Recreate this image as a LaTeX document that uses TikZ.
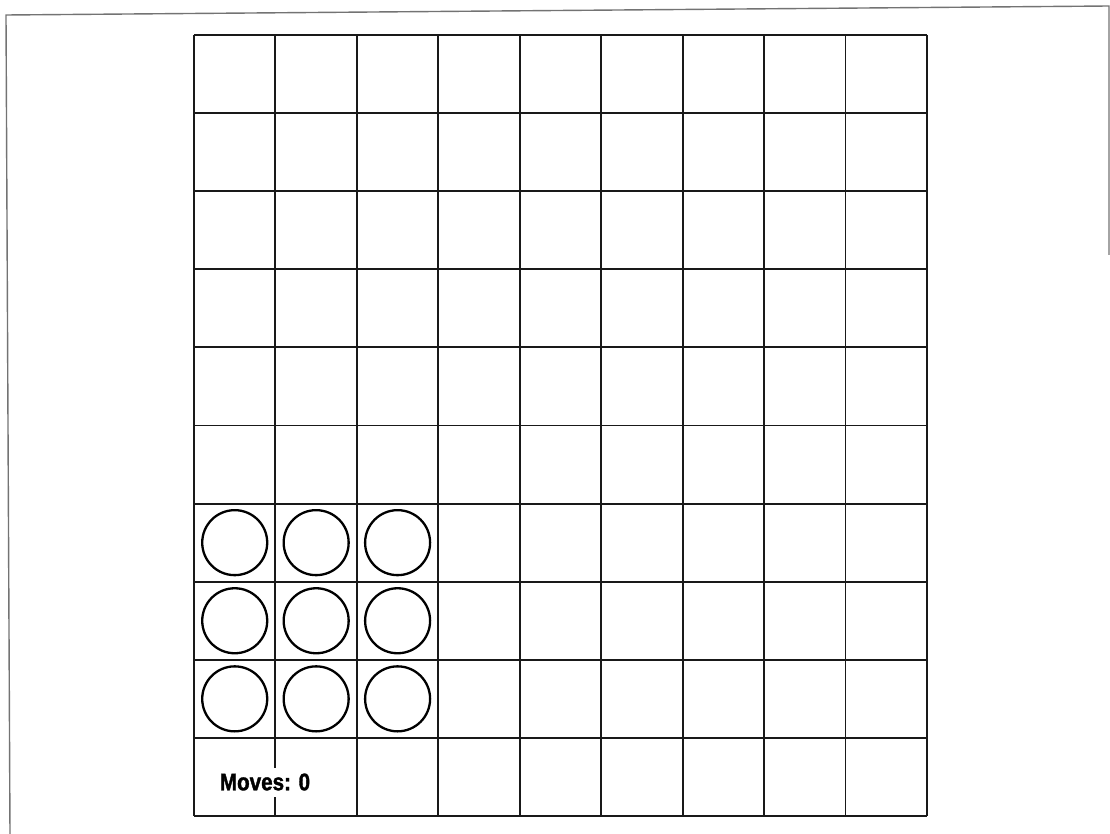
\documentclass[tikz,border=0pt]{standalone}
\usepackage{fontspec}
\newfontfamily\movesfont[FakeStretch=0.86, BoldFeatures={FakeBold=1.5}]{Liberation Sans}
\tikzset{
  gridline/.style={line width=1.9pt, black!90},
  frameline/.style={line width=1.4pt, black!55},
  piece/.style={circle, draw, line width=2.3pt, minimum size=65pt, inner sep=0pt},
  movestext/.style={fill=white, inner xsep=2pt, inner ysep=6pt, font=\movesfont\bfseries\fontsize{24}{27}\selectfont}
}
\begin{document}
\begin{tikzpicture}[x=1pt,y=-1pt]
\useasboundingbox (0,0) rectangle (1110,834);
% window frame
\coordinate (ftl) at (6,15);
\coordinate (ftr) at (1109,6);
\coordinate (fbl) at (10,834);
\coordinate (frb) at (1109,255);
\draw[frameline] (fbl) -- (ftl) -- (ftr) -- (frb);
% grid
\def\gx{194}\def\gy{35}\def\cw{81.44}\def\ch{78.1}
\foreach \i in {0,...,9} {
  \draw[gridline] ({\gx+\i*\cw},\gy) -- ({\gx+\i*\cw},{\gy+10*\ch});
}
\foreach \j in {0,...,10} {
  \draw[gridline] (\gx,{\gy+\j*\ch}) -- ({\gx+9*\cw},{\gy+\j*\ch});
}
% pieces
\foreach \r in {6,7,8} {
  \foreach \c in {0,1,2} {
    \node[piece] (p\r\c) at ({\gx+(\c+0.5)*\cw},{\gy+(\r+0.5)*\ch}) {};
  }
}
% moves counter
\node[movestext] (moves) at (265,782) {Moves: 0};
\end{tikzpicture}
\end{document}
